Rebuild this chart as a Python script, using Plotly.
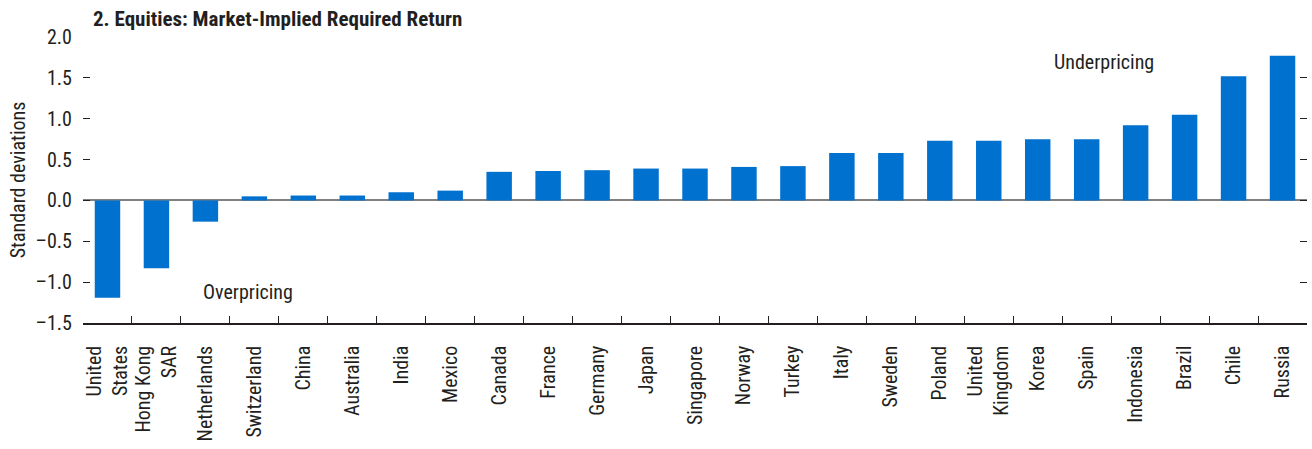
import plotly.graph_objects as go

countries = ["United<br>States", "Hong Kong<br>SAR", "Netherlands", "Switzerland", "China",
             "Australia", "India", "Mexico", "Canada", "France", "Germany", "Japan",
             "Singapore", "Norway", "Turkey", "Italy", "Sweden", "Poland",
             "United<br>Kingdom", "Korea", "Spain", "Indonesia", "Brazil", "Chile", "Russia"]
values = [-1.19, -0.83, -0.26, 0.05, 0.06, 0.06, 0.10, 0.12, 0.35, 0.36, 0.37, 0.39,
          0.39, 0.41, 0.42, 0.58, 0.58, 0.73, 0.73, 0.75, 0.75, 0.92, 1.05, 1.52, 1.77]
y_ticks = [-1.5, -1.0, -0.5, 0.0, 0.5, 1.0, 1.5, 2.0]
y_ticklabels = ["\u20131.5", "\u20131.0", "\u20130.5", "0.0", "0.5", "1.0", "1.5", "2.0"]

FONT = "Liberation Sans Narrow, Roboto Condensed, Arial Narrow, Roboto, sans-serif"
TXT = "#231f20"

W, H = 1312, 449

fig = go.Figure(go.Bar(x=countries, y=values, marker=dict(color="#0071CE", line=dict(width=0)),
                       width=0.52))

fig.update_layout(
    width=W, height=H,
    margin=dict(l=83, r=5, t=37, b=126, autoexpand=False),
    paper_bgcolor="white", plot_bgcolor="white",
    font=dict(family=FONT, size=20, color=TXT),
    showlegend=False,
    title=dict(text="<b>2. Equities: Market-Implied Required Return</b>", x=93 / W, xanchor="left",
               y=1 - 18.5 / H, yanchor="middle", font=dict(size=21, family=FONT, color=TXT)),
    annotations=[
        dict(text="Underpricing", x=20.36, y=1.69, xref="x", yref="y", showarrow=False,
             font=dict(size=20, family=FONT, color=TXT)),
        dict(text="Overpricing", x=2.87, y=-1.12, xref="x", yref="y", showarrow=False,
             font=dict(size=20, family=FONT, color=TXT)),
    ],
)
fig.update_xaxes(
    showline=True, linecolor=TXT, linewidth=1.5,
    ticks="inside", tickson="boundaries", ticklen=7, tickcolor=TXT,
    tickangle=-90, ticklabelstandoff=13, showgrid=False,
    tickfont=dict(size=20, family=FONT, color=TXT),
)
fig.update_yaxes(
    range=[-1.5, 2.0], tickvals=y_ticks, ticktext=y_ticklabels,
    ticks="inside", ticklen=7, tickcolor=TXT, mirror="ticks",
    showline=False, showgrid=False, zeroline=True, zerolinecolor="#808080", zerolinewidth=1.5,
    ticklabelstandoff=10,
    title=dict(text="Standard deviations", standoff=4, font=dict(size=20, family=FONT, color=TXT)),
    tickfont=dict(size=20, family=FONT, color=TXT),
)

fig.write_html("out.html", config={"displayModeBar": False},
               post_script="document.body.style.margin='0';")
